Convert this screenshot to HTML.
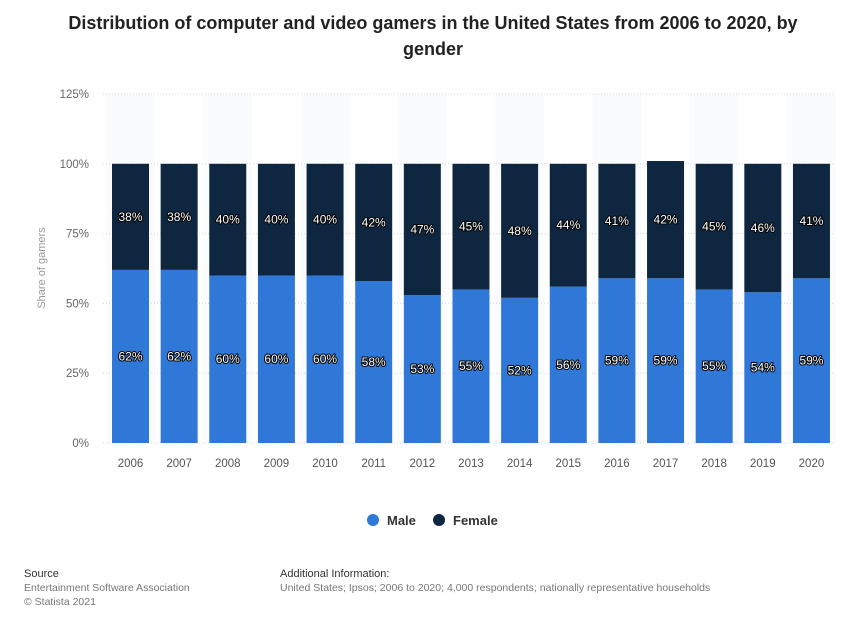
<!DOCTYPE html>
<html><head><meta charset="utf-8">
<style>
body{margin:0;background:#fff;width:866px;height:616px;overflow:hidden;font-family:"Liberation Sans",sans-serif;}
svg text{font-family:"Liberation Sans",sans-serif;}
</style></head>
<body>
<svg id="chart" width="866" height="616" xmlns="http://www.w3.org/2000/svg">
<text x="433" y="29" text-anchor="middle" font-size="18" font-weight="bold" fill="#222">Distribution of computer and video gamers in the United States from 2006 to 2020, by</text>
<text x="433" y="55" text-anchor="middle" font-size="18" font-weight="bold" fill="#222">gender</text>
<text transform="translate(45,268) rotate(-90)" text-anchor="middle" font-size="11" fill="#999">Share of gamers</text>
<g id="grid"></g>
<g id="bars"></g>
<g id="xlabels"></g>
<g>
<circle cx="373" cy="520" r="6" fill="#2f78d8"/>
<text x="387" y="525" font-size="13" font-weight="bold" fill="#333">Male</text>
<circle cx="439" cy="520" r="6" fill="#0f2640"/>
<text x="453" y="525" font-size="13" font-weight="bold" fill="#333">Female</text>
</g>
<text x="24" y="577" font-size="11" fill="#333">Source</text>
<text x="24" y="591" font-size="10.5" fill="#777">Entertainment Software Association</text>
<text x="24" y="605" font-size="10.5" fill="#777">© Statista 2021</text>
<text x="280" y="577" font-size="11" fill="#333">Additional Information:</text>
<text x="280" y="591" font-size="10.5" fill="#777">United States; Ipsos; 2006 to 2020; 4,000 respondents; nationally representative households</text>
</svg>
<script>
const years=["2006","2007","2008","2009","2010","2011","2012","2013","2014","2015","2016","2017","2018","2019","2020"];
const male=[62,62,60,60,60,58,53,55,52,56,59,59,55,54,59];
const female=[38,38,40,40,40,42,47,45,48,44,41,42,45,46,41];
const ticks=[0,25,50,75,100,125];
const NS="http://www.w3.org/2000/svg";
const x0=103,x1=835,y0=443,yTop=94;
const pitch=48.64, bw=37, firstX=112;
function y(v){return y0-(v/125)*(y0-yTop);}
function xb(i){return firstX+i*pitch;}
function mk(tag,attrs,parent){const e=document.createElementNS(NS,tag);for(const k in attrs)e.setAttribute(k,attrs[k]);parent.appendChild(e);return e;}
const grid=document.getElementById('grid'),bars=document.getElementById('bars'),xl=document.getElementById('xlabels');
years.forEach((yr,i)=>{
  if(i%2===0){const r=mk('rect',{x:xb(i)-(pitch-bw)/2,y:yTop,width:pitch,height:y0-yTop,fill:'#fafbfc'},grid);
  
  }
});
ticks.forEach(t=>{
  const l=mk('line',{x1:x0,x2:x1,y1:y(t),y2:y(t),stroke:'#d8d8d8','stroke-dasharray':'1,2'},grid);
  
  
  const tx=mk('text',{x:89,y:y(t)+4,'text-anchor':'end','font-size':11.5,fill:'#666'},grid);
  tx.textContent=t+'%';
  
  
});
function label(txt,cx,cy){
  const t=mk('text',{x:cx,y:cy+4,'text-anchor':'middle','font-size':12,fill:'#fff',stroke:'#000','stroke-width':2,'paint-order':'stroke','stroke-linejoin':'round'},bars);
  t.textContent=txt;
  
  
}
years.forEach((yr,i)=>{
  const bx=xb(i);
  const m=mk('rect',{x:bx,y:y(male[i]),width:bw,height:y(0)-y(male[i]),fill:'#2f78d8'},bars);
  
  
  const f=mk('rect',{x:bx,y:y(male[i]+female[i]),width:bw,height:y(male[i])-y(male[i]+female[i]),fill:'#0f2640'},bars);
  
  
  label(male[i]+'%',bx+bw/2,y(male[i]/2));
  label(female[i]+'%',bx+bw/2,y(male[i]+female[i]/2));
  const t=mk('text',{x:bx+bw/2,y:467,'text-anchor':'middle','font-size':11.5,fill:'#555'},xl);
  t.textContent=yr;
  
  
});
</script>
</body></html>
